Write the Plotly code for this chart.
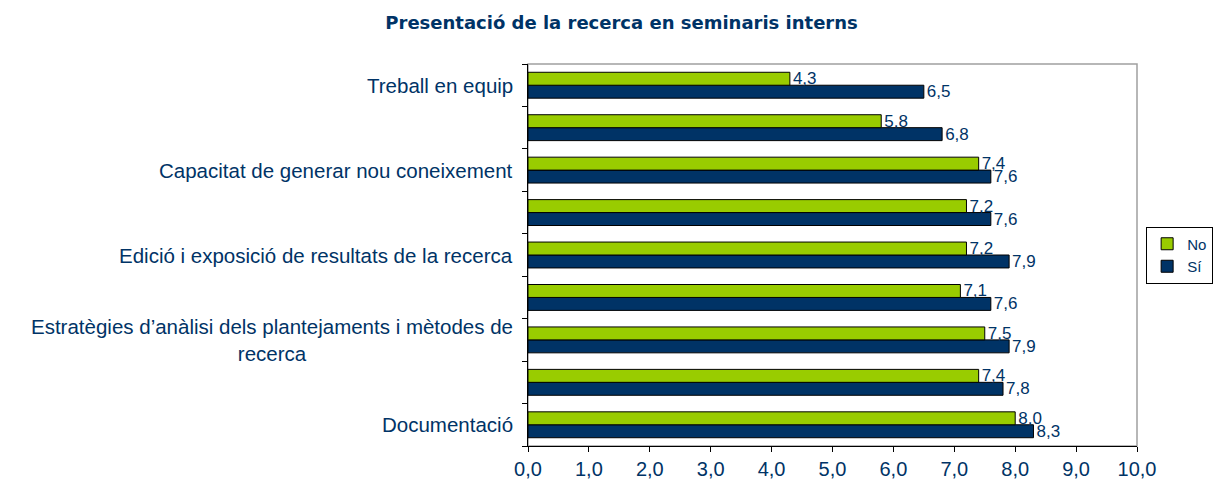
import plotly.graph_objects as go

# categories from bottom to top (empty ones have no visible label in the original)
categories = [
    "Documentació",
    "",
    "Estratègies d’anàlisi dels plantejaments i mètodes de<br>recerca",
    "",
    "Edició i exposició de resultats de la recerca",
    "",
    "Capacitat de generar nou coneixement",
    "",
    "Treball en equip",
]
no_vals = [8.0, 7.4, 7.5, 7.1, 7.2, 7.2, 7.4, 5.8, 4.3]
si_vals = [8.3, 7.8, 7.9, 7.6, 7.9, 7.6, 7.6, 6.8, 6.5]
x_ticks = [0, 1, 2, 3, 4, 5, 6, 7, 8, 9, 10]

navy = "#003366"
green = "#99CC00"
font = "Liberation Sans, Arial, sans-serif"
pos = list(range(len(categories)))

fig = go.Figure()
fig.add_trace(go.Bar(y=pos, x=si_vals, orientation="h", name="Sí",
                     marker=dict(color=navy, line=dict(color="black", width=1)),
                     texttemplate="%{x:.1f}", textposition="outside", constraintext="none",
                     textfont=dict(color=navy, size=17, family=font), cliponaxis=False))
fig.add_trace(go.Bar(y=pos, x=no_vals, orientation="h", name="No",
                     marker=dict(color=green, line=dict(color="black", width=1)),
                     texttemplate="%{x:.1f}", textposition="outside", constraintext="none",
                     textfont=dict(color=navy, size=17, family=font), cliponaxis=False))

# category labels, right-aligned block with centred lines
for p, c in zip(pos, categories):
    if c:
        fig.add_annotation(x=0, xref="paper", y=p, yref="y", text=c, showarrow=False,
                           xanchor="right", align="center", xshift=-13,
                           font=dict(color=navy, size=20.5, family=font))

# grey plot-area border
fig.add_shape(type="rect", xref="paper", yref="paper", x0=0, x1=1, y0=0, y1=1,
              line=dict(color="#a0a0a0", width=1.5), layer="below")

# page body has an 8px margin, so the figure is a bit smaller than the window
fig.update_layout(
    width=1215, height=471,
    margin=dict(l=520, r=86, t=56, b=33, autoexpand=False),
    paper_bgcolor="white", plot_bgcolor="white",
    barmode="group", bargap=0.39, bargroupgap=0,
    separators=",.",
    title=dict(text="<b>Presentació de la recerca en seminaris interns</b>",
               x=0.505, xanchor="center", y=0.968, yanchor="middle",
               font=dict(color=navy, size=18, family="DejaVu Sans, sans-serif")),
    xaxis=dict(range=[0, 10], tickvals=x_ticks, tickformat=".1f",
               showgrid=False, zeroline=False, showline=True, linecolor="black", linewidth=1,
               ticks="outside", ticklen=5, tickcolor="black",
               tickfont=dict(color=navy, size=20, family=font)),
    yaxis=dict(range=[-0.5, len(categories) - 0.5], showticklabels=False,
               tickvals=[p - 0.5 for p in pos] + [len(categories) - 0.5],
               showgrid=False, zeroline=False, showline=True, linecolor="black", linewidth=1,
               ticks="outside", ticklen=5, tickcolor="black"),
    legend=dict(x=1.125, y=0.5, xanchor="right", yanchor="middle",
                traceorder="reversed", bordercolor="black", borderwidth=1,
                font=dict(color=navy, size=15, family=font),
                itemwidth=30, tracegroupgap=0),
)

fig.write_html("out.html")
